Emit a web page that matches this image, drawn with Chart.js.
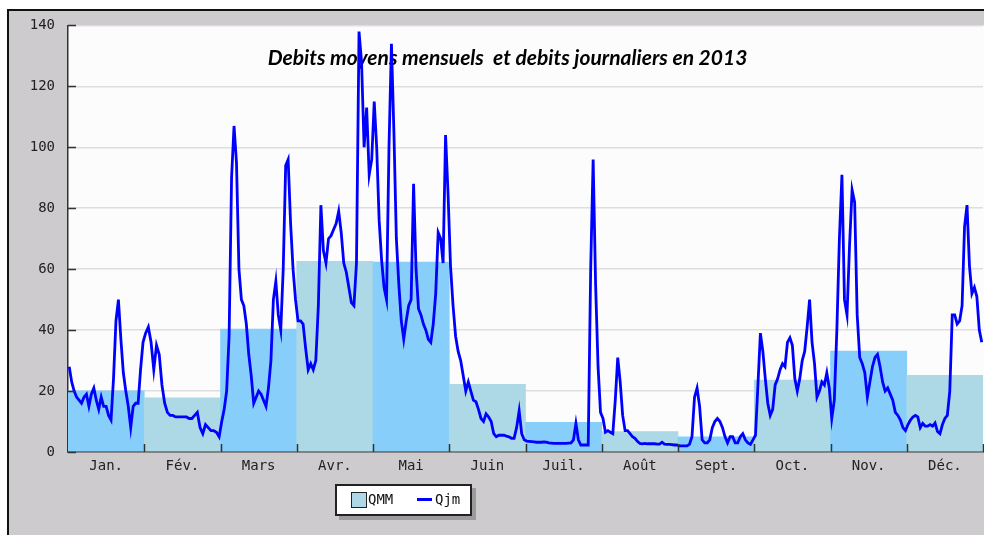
<!DOCTYPE html>
<html>
<head>
<meta charset="utf-8">
<script src="https://cdn.jsdelivr.net/npm/chart.js@4.4.1/dist/chart.umd.min.js"></script>
<style>
  html, body { margin: 0; padding: 0; background: #ffffff; width: 984px; height: 535px; overflow: hidden; }
  #frame { position: absolute; left: 7px; top: 9px; width: 975px; height: 524px; overflow: hidden;
           border-left: 2px solid #111; border-top: 2px solid #111; background: #cdcbcd; }
  #wrap { position: absolute; left: 0; top: -7px; width: 975px; height: 531px; }
  #wrap canvas { display: block; }
  #legend { position: absolute; left: 335px; top: 484px; width: 133px; height: 28px;
            border: 2px solid #222; background: #fff; box-shadow: 4px 4px 0 #9c9c9c;
            font-family: "DejaVu Sans Mono", monospace; font-size: 14px; color: #111; }
  #legend .sw { position: absolute; left: 14px; top: 6px; width: 14px; height: 14px;
                background: #ADD8E6; border: 1px solid #222; }
  #legend .t1 { position: absolute; left: 31px; top: 5px; line-height: 17px; }
  #legend .ln { position: absolute; left: 80px; top: 12px; width: 15px; height: 3px; background: #0000ff; }
  #legend .t2 { position: absolute; left: 98px; top: 5px; line-height: 17px; }
</style>
</head>
<body>
<div id="frame"><div id="wrap"><canvas id="c"></canvas></div></div>
<div id="legend"><span class="sw"></span><span class="t1">QMM</span><span class="ln"></span><span class="t2">Qjm</span></div>
<script>
const title = "Debits moyens mensuels  et debits journaliers en 2013";
const months = ["Jan.", "Fév.", "Mars", "Avr.", "Mai", "Juin", "Juil.", "Août", "Sept.", "Oct.", "Nov.", "Déc."];
const yTicks = [0, 20, 40, 60, 80, 100, 120, 140];
// Monthly mean discharge (QMM)
const qmm = [20.1, 17.8, 40.3, 62.6, 62.3, 22.2, 9.7, 6.7, 5.0, 23.6, 33.1, 25.2];
// Daily discharge (Qjm), one array per month
const qjmJan = [28, 23, 20, 18, 17, 16, 18, 19, 15, 19, 21, 17, 14, 18, 15, 15, 12, 10.5, 24, 43, 50, 37, 26, 20, 15, 8, 15, 16, 16, 27, 36];
const qjmFev = [39, 41, 36, 27, 35, 32, 22, 16, 13, 12, 12, 11.5, 11.5, 11.5, 11.5, 11.5, 11, 11, 12, 13, 8, 6, 9, 8, 7, 7, 6.5, 5];
const qjmMar = [10, 14, 20, 38, 90, 107, 95, 60, 50, 48, 42, 32, 25, 16, 18, 20, 19, 17, 15, 21, 30, 50, 56, 45, 40, 60, 94, 96, 75, 60, 50];
const qjmAvr = [43, 43, 42, 34, 27, 29, 27, 30, 48, 81, 66, 62, 70, 71, 73, 75, 79, 72, 62, 59, 54, 49, 48, 62, 138, 128, 100, 113, 91, 96];
const qjmMai = [115, 100, 76, 63, 54, 50, 100, 134, 105, 70, 55, 43, 37, 43, 48, 50, 88, 60, 47, 45, 42, 40, 37, 36, 42, 52, 72, 70, 62, 104, 85];
const qjmJuin = [61, 48, 38, 33, 30, 25, 20, 23, 20, 17, 16.5, 14, 11, 10, 12.5, 11.5, 10, 6, 5, 5.5, 5.5, 5.5, 5.2, 5, 4.5, 4.5, 8, 13.5, 6, 4];
const qjmJuil = [3.6, 3.5, 3.4, 3.3, 3.2, 3.2, 3.2, 3.3, 3.2, 3, 2.9, 2.8, 2.8, 2.8, 2.8, 2.8, 2.8, 2.9, 3, 4, 9.4, 4, 2.3, 2.3, 2.3, 2.3, 60, 96, 55, 28, 13];
const qjmAout = [11, 6.5, 7, 6.5, 6, 17, 31, 23, 12, 7, 7, 6, 5, 4.5, 3.5, 2.8, 2.7, 2.8, 2.7, 2.7, 2.7, 2.7, 2.6, 2.6, 3.2, 2.6, 2.5, 2.5, 2.4, 2.3, 2.3];
const qjmSep = [2, 2, 2, 2, 2.5, 5, 18, 21, 15, 4, 3, 3, 4, 8, 10, 11, 10, 8, 5, 3, 5, 5, 3, 3, 5, 6, 4, 3, 2.5, 4];
const qjmOct = [5.5, 22, 39, 33, 24, 16, 12, 14, 22, 24, 27, 29, 28, 36, 37.5, 35, 24, 20, 24, 30, 33, 41, 50, 36, 29, 18, 20, 23, 22, 26, 21];
const qjmNov = [11, 17, 40, 70, 91, 50, 45, 68, 86, 82, 45, 31, 29, 26, 18, 23, 28, 31, 32, 28, 23, 20, 21, 19, 17, 13, 12, 10.5, 8, 7];
const qjmDec = [9, 10.5, 11.5, 12, 11.5, 8, 9.4, 8.5, 8.5, 9, 8.5, 9.5, 6.7, 6, 9, 11, 12, 20, 45, 45, 42, 43, 48, 74, 81, 61, 52, 54, 51, 40, 36];

const dailyByMonth = [qjmJan, qjmFev, qjmMar, qjmAvr, qjmMai, qjmJuin, qjmJuil, qjmAout, qjmSep, qjmOct, qjmNov, qjmDec];
const qjmPoints = [];
dailyByMonth.forEach((arr, m) => arr.forEach((v, i) => qjmPoints.push({ x: m + (i + 0.5) / arr.length, y: v })));

const barColors = months.map((_, i) => (i % 2 === 0 ? "#87CEFA" : "#ADD8E6"));

const bgPlugin = {
  id: "bg",
  beforeDraw(chart) {
    const { ctx, chartArea: a, width, height } = chart;
    ctx.save();
    ctx.fillStyle = "#cdcbcd";
    ctx.fillRect(0, 0, width, height);
    ctx.fillStyle = "#fbfcfb";
    ctx.fillRect(a.left, a.top, chart.width - a.left, a.bottom - a.top);
    ctx.restore();
  },
  beforeDatasetsDraw(chart) {
    const { ctx, chartArea: a } = chart;
    ctx.save();
    ctx.font = "italic bold 21px Lato, 'Open Sans', sans-serif";
    ctx.fillStyle = "#000";
    ctx.textAlign = "center";
    ctx.textBaseline = "alphabetic";
    ctx.fillText(title, (a.left + a.right) / 2 - 18, a.top + 40);
    ctx.restore();
  },
  afterDraw(chart) {
    const { ctx, chartArea: a } = chart;
    const ys = chart.scales.y, xs = chart.scales.x2;
    ctx.save();
    ctx.strokeStyle = "#333";
    ctx.lineWidth = 1.5;
    ctx.beginPath();
    yTicks.forEach(v => {
      const py = Math.round(ys.getPixelForValue(v)) + 0.5;
      ctx.moveTo(a.left, py); ctx.lineTo(a.left + 8, py);
    });
    for (let m = 1; m <= months.length; m++) {
      const px = Math.round(xs.getPixelForValue(m)) + 0.5;
      ctx.moveTo(px, a.bottom); ctx.lineTo(px, a.bottom - 8);
    }
    ctx.stroke();
    ctx.restore();
  }
};

new Chart(document.getElementById("c"), {
  type: "bar",
  data: {
    labels: months,
    datasets: [
      {
        type: "line",
        label: "Qjm",
        data: qjmPoints,
        xAxisID: "x2",
        yAxisID: "y",
        borderColor: "#0000ff",
        borderWidth: 2.8,
        pointRadius: 0,
        tension: 0,
        fill: false,
        order: 0
      },
      {
        type: "bar",
        label: "QMM",
        data: qmm,
        xAxisID: "x",
        yAxisID: "y",
        backgroundColor: barColors,
        borderWidth: 0,
        barPercentage: 1,
        categoryPercentage: 1,
        grouped: false,
        order: 1
      }
    ]
  },
  options: {
    responsive: true,
    maintainAspectRatio: false,
    animation: false,
    devicePixelRatio: 1,
    layout: { padding: { left: 0, top: 7, right: 1, bottom: 0 } },
    plugins: { legend: { display: false }, tooltip: { enabled: false }, title: { display: false } },
    scales: {
      x: {
        type: "category",
        offset: true,
        grid: { display: false, drawTicks: false },
        border: { display: true, color: "#333", width: 1.5 },
        ticks: { color: "#222", font: { family: "'DejaVu Sans Mono', monospace", size: 14 }, padding: 6, maxRotation: 0, autoSkip: false },
        afterFit(s) { s.height = 83; }
      },
      x2: { type: "linear", min: 0, max: 12, offset: false, display: false, grid: { offset: false } },
      y: {
        min: 0,
        max: 140,
        afterBuildTicks(s) { s.ticks = yTicks.map(v => ({ value: v })); },
        grid: { color: "#dedede", lineWidth: 1.5, drawTicks: false },
        border: { display: true, color: "#333", width: 1.5 },
        ticks: { color: "#222", font: { family: "'DejaVu Sans Mono', monospace", size: 14 }, padding: 13 },
        afterFit(s) { s.width = 59; }
      }
    }
  },
  plugins: [bgPlugin]
});
</script>
</body>
</html>
